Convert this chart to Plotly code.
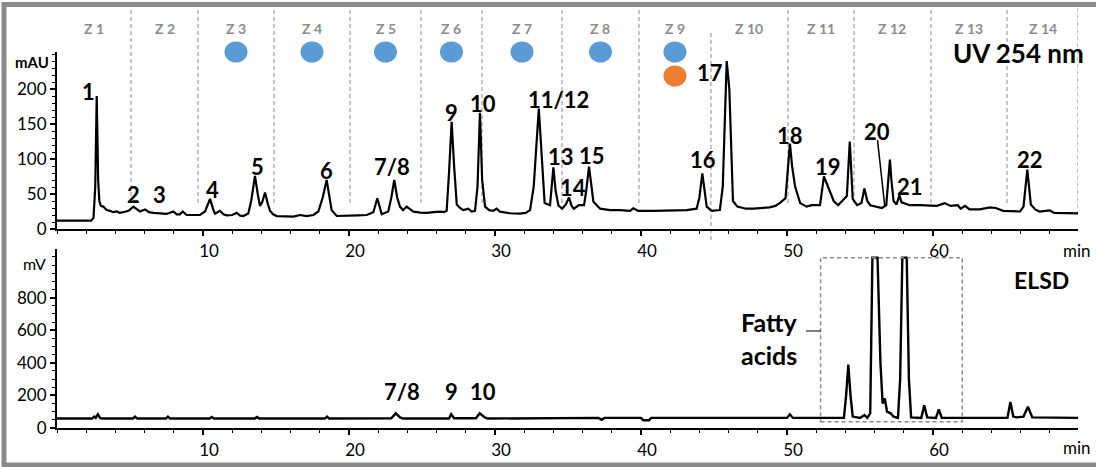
import plotly.graph_objects as go

# ---------------- data ----------------
uv_time = [0, 2.35, 2.5, 2.62, 2.72, 2.82, 2.9, 3.0, 3.17, 3.4, 3.63, 3.85, 4.09, 4.3, 4.54, 4.9,
           5.23, 5.5, 5.68, 6.03, 6.3, 6.6, 7.05, 7.3, 7.51, 7.97, 8.2, 8.42, 8.61, 8.88, 9.4, 9.79,
           10.14, 10.48, 10.7, 10.82, 11.16, 11.4, 11.62, 12.0, 12.31, 12.55, 12.76, 13.1, 13.3, 13.56,
           13.75, 13.9, 14.05, 14.25, 14.45, 14.59, 14.8, 15.05, 16.19, 16.64, 17.1, 17.56, 17.9, 18.2,
           18.47, 18.65, 18.81, 19.16, 20.07, 20.6, 21.21, 21.67, 21.94, 22.1, 22.24, 22.69, 22.9, 23.1,
           23.3, 23.49, 23.7, 23.95, 24.41, 24.9, 25.32, 25.8, 26.23, 26.5, 26.69, 26.85, 27.03, 27.2,
           27.38, 27.6, 27.83, 28.17, 28.4, 28.63, 28.8, 28.97, 29.12, 29.32, 29.6, 29.88, 30.11, 30.34,
           31.0, 31.71, 32.1, 32.4, 32.65, 33.0, 33.2, 33.4, 33.77, 33.9, 34.0, 34.15, 34.34, 34.6,
           34.85, 35.07, 35.25, 35.4, 35.75, 36.1, 36.25, 36.44, 36.6, 36.74, 37.2, 37.88, 38.56, 39.25,
           39.47, 39.8, 40.84, 41.98, 43.13, 43.81, 44.0, 44.2, 44.35, 44.5, 44.84, 45.4, 45.6, 45.87,
           46.05, 46.2, 46.3, 46.6, 47.2, 47.7, 48.2, 48.8, 49.2, 49.5, 49.9, 50.2, 50.35, 50.55, 50.9,
           51.35, 51.7, 52.26, 52.53, 52.83, 53.2, 53.5, 53.86, 54.1, 54.3, 54.5, 54.8, 55.1, 55.3, 55.5,
           55.7, 56.1, 56.5, 56.8, 56.95, 57.05, 57.15, 57.3, 57.5, 57.7, 57.85, 58.0, 58.4, 59.1, 60.25,
           60.8, 61.2, 61.7, 61.9, 62.2, 62.5, 63.2, 63.9, 64.3, 64.8, 65.96, 66.2, 66.46, 66.7, 67.0,
           67.3, 68.0, 68.3, 69.93]
uv_mau = [12, 12, 16, 60, 190, 70, 40, 33, 32, 27, 26, 24, 25, 23, 24, 26,
          32, 27, 25, 28, 24, 23, 22, 21.5, 21.5, 25, 21, 21, 25, 20, 19.5, 20,
          25, 43, 28, 22, 26, 21, 19.5, 20, 23, 19, 18.5, 22, 40, 76,
          50, 33, 38, 52, 35, 26, 21, 18.5, 17.6, 20, 18.5, 20, 25, 45,
          70, 45, 27, 18.6, 18.6, 19.5, 20, 24, 44, 30, 21, 25, 45, 70,
          45, 32, 27, 32, 24.8, 23.5, 23, 24, 24.8, 24, 26, 80, 153, 90,
          35, 30, 27, 29, 25, 26, 60, 166, 70, 32, 27, 26, 29, 24.8,
          22.5, 22, 23, 27, 60, 172, 110, 37, 34, 60, 88, 55, 34, 29,
          35, 45, 33, 29, 34, 34, 55, 89, 60, 39, 29, 27, 27, 26,
          29.5, 26, 26, 26, 27, 29, 45, 79.5, 55, 32, 26, 27, 60, 240,
          200, 90, 40, 32, 29, 29, 30, 31, 33, 37, 44, 122, 90, 61, 37,
          32, 34, 34, 75, 59, 40, 34, 42, 47, 125, 43, 34, 37, 58, 40,
          34, 32, 30, 34, 70, 99, 70, 40, 35, 48, 38, 37, 34, 34, 33,
          37, 33, 34, 29, 33, 28, 28, 31, 30, 26, 25, 32, 85, 35, 28,
          25, 26.5, 23, 22.4]

elsd_time = [0, 2.4, 2.55, 2.65, 2.8, 2.95, 3.1, 5.2, 5.34, 5.5, 7.45, 7.6, 7.75, 10.45, 10.6, 10.75,
             13.55, 13.7, 13.85, 18.35, 18.5, 18.65, 22.9, 23.2, 23.5, 23.7, 26.85, 27.0, 27.2, 28.7,
             28.95, 29.3, 29.5, 32.5, 32.7, 37.1, 37.3, 37.5, 40.0, 40.15, 40.55, 40.7, 50.0, 50.2,
             50.4, 53.9, 54.05, 54.2, 54.35, 54.5, 55.0, 55.3, 55.5, 55.7, 55.85, 56.2, 56.4, 56.55,
             56.7, 56.85, 57.1, 57.3, 57.6, 57.75, 57.9, 58.2, 58.35, 58.5, 59.2, 59.4, 59.6, 60.2,
             60.4, 60.6, 65.1, 65.3, 65.5, 65.7, 66.2, 66.5, 66.8, 69.93]
elsd_mv = [58, 58, 70, 62, 84, 62, 58, 58, 70, 58, 58, 70, 58, 58, 68, 58,
           58, 68, 58, 58, 70, 58, 60, 90, 65, 58, 58, 84, 60, 60,
           90, 65, 58, 58, 62, 62, 50, 62, 62, 48, 48, 62, 62, 84,
           62, 62, 200, 389, 200, 70, 62, 80, 62, 90, 1045, 1045, 400, 150,
           181, 100, 90, 70, 62, 300, 1045, 1045, 300, 65, 62, 140, 65, 62,
           114, 62, 62, 160, 70, 65, 70, 130, 65, 62]

uv_ticks = [0, 50, 100, 150, 200]
elsd_ticks = [0, 200, 400, 600, 800]
time_ticks = [10, 20, 30, 40, 50, 60]

zone_bounds = [0, 5.07, 9.66, 14.86, 20.07, 24.93, 29.11, 34.59, 39.86, 44.79, 50.07, 54.59,
               59.86, 65.07, 69.93]
zone_names = ["Z 1", "Z 2", "Z 3", "Z 4", "Z 5", "Z 6", "Z 7", "Z 8", "Z 9", "Z 10", "Z 11",
              "Z 12", "Z 13", "Z 14"]
blue_zones = [3, 4, 5, 6, 7, 8, 9]
orange_zones = [9]

uv_labels = ["1", "2", "3", "4", "5", "6", "7/8", "9", "10", "11/12", "13", "14", "15", "16",
             "17", "18", "19", "20", "21", "22"]
uv_label_t = [2.19, 5.21, 6.99, 10.68, 13.70, 18.49, 22.95, 27.05, 29.18, 34.38, 34.52, 35.34,
              36.64, 44.25, 44.73, 50.2, 52.8, 56.16, 58.42, 66.64]
uv_label_v = [197, 48.6, 48.6, 57, 88.6, 84, 88.6, 167, 178.6, 185.7, 102.9, 58.6, 104.3, 98.6,
              222.9, 132.9, 88.6, 138.6, 61.4, 98.6]
elsd_labels = ["7/8", "9", "10"]
elsd_label_t = [23.63, 27.05, 29.18]
elsd_label_v = [221, 221, 221]

# ---------------- geometry ----------------
W, H = 1096, 467
X0, X1 = 57, 1078
PPM = 14.6  # px per minute
TMAX = (X1 - X0) / PPM


def fy(p):
    return 1 - p / H


def fx(p):
    return p / W


UV_ZERO, UV_TOP, UV_SCALE = 229, 52, 0.7
EL_ZERO, EL_TOP, EL_SCALE = 428, 249, 0.163

FONT = "Lato"

fig = go.Figure()
fig.add_trace(go.Scatter(x=uv_time, y=uv_mau, mode="lines", line=dict(color="black", width=2.2),
                         xaxis="x", yaxis="y", showlegend=False, hoverinfo="skip"))
fig.add_trace(go.Scatter(x=elsd_time, y=elsd_mv, mode="lines", line=dict(color="black", width=2.4),
                         xaxis="x2", yaxis="y2", showlegend=False, hoverinfo="skip"))

tickfont = dict(family=FONT, size=17, color="black")
common = dict(showline=True, linecolor="black", linewidth=2.2, ticks="outside", tickcolor="black",
              tickwidth=1.5, ticklen=5, showgrid=False, zeroline=False, tickfont=tickfont,
              fixedrange=True)
minor_x = dict(dtick=2, tick0=0, ticks="outside", ticklen=3, tickwidth=1, tickcolor="black")

fig.update_layout(
    width=W, height=H, margin=dict(l=0, r=0, t=0, b=0, autoexpand=False),
    paper_bgcolor="white", plot_bgcolor="white", showlegend=False,
    xaxis=dict(common, domain=[fx(X0), fx(X1)], range=[0, TMAX], anchor="y",
               tickmode="array", tickvals=time_ticks, minor=minor_x, ticklabelshift=6),
    yaxis=dict(common, domain=[fy(UV_ZERO), fy(UV_TOP)],
               range=[0, (UV_ZERO - UV_TOP) / UV_SCALE], anchor="x",
               tickmode="array", tickvals=uv_ticks,
               minor=dict(dtick=10, tick0=0, ticks="outside", ticklen=3, tickwidth=1, tickcolor="black")),
    xaxis2=dict(common, domain=[fx(X0), fx(X1)], range=[0, TMAX], anchor="y2",
                tickmode="array", tickvals=time_ticks, minor=minor_x, ticklabelshift=6),
    yaxis2=dict(common, domain=[fy(EL_ZERO), fy(EL_TOP)],
                range=[0, (EL_ZERO - EL_TOP) / EL_SCALE], anchor="x2",
                tickmode="array", tickvals=elsd_ticks,
                minor=dict(dtick=50, tick0=0, ticks="outside", ticklen=3, tickwidth=1, tickcolor="black")),
)

shapes = []
annotations = []
grey_dash = dict(color="#a6a6a6", width=1.3, dash="4px,3px")

# zone boundary lines
for i, b in enumerate(zone_bounds[1:]):
    if abs(b - 44.79) < 0.01:
        y0p, y1p = 240, 32
    elif i == len(zone_bounds) - 2:
        y0p, y1p = 215, 7
    else:
        y0p, y1p = 203, 7
    shapes.append(dict(type="line", xref="x", yref="paper", x0=b, x1=b, y0=fy(y0p), y1=fy(y1p),
                       line=grey_dash, layer="below"))

# zone labels and circles
for i, name in enumerate(zone_names):
    mid = (zone_bounds[i] + zone_bounds[i + 1]) / 2
    annotations.append(dict(x=mid, y=fy(28), xref="x", yref="paper", text="<b>" + name + "</b>",
                            showarrow=False, font=dict(family=FONT, size=14, color="#8c8c8c"),
                            xanchor="center", yanchor="middle"))
    zn = i + 1
    r = 11.5 / PPM
    if zn in blue_zones:
        shapes.append(dict(type="circle", xref="x", yref="paper", x0=mid - r, x1=mid + r,
                           y0=fy(52 + 10.5), y1=fy(52 - 10.5), fillcolor="#5b9bd5",
                           line=dict(width=0)))
    if zn in orange_zones:
        shapes.append(dict(type="circle", xref="x", yref="paper", x0=mid - r, x1=mid + r,
                           y0=fy(76 + 10.5), y1=fy(76 - 10.5), fillcolor="#ed7d31",
                           line=dict(width=0)))

# peak labels
for s, t, v in zip(uv_labels, uv_label_t, uv_label_v):
    annotations.append(dict(x=t, y=v, xref="x", yref="y", text="<b>" + s + "</b>", showarrow=False,
                            font=dict(family=FONT, size=22, color="black"),
                            xanchor="center", yanchor="middle"))
for s, t, v in zip(elsd_labels, elsd_label_t, elsd_label_v):
    annotations.append(dict(x=t, y=v, xref="x2", yref="y2", text="<b>" + s + "</b>", showarrow=False,
                            font=dict(family=FONT, size=22, color="black"),
                            xanchor="center", yanchor="middle"))

# leader line for peak 20
shapes.append(dict(type="line", xref="x", yref="y", x0=56.2, y0=127, x1=56.7, y1=32,
                   line=dict(color="black", width=1.5)))

# fatty acids box and leader
shapes.append(dict(type="rect", xref="x2", yref="y2", x0=52.3, x1=62.0, y0=38, y1=1045,
                   line=dict(color="#8c8c8c", width=1.5, dash="4px,3px")))
shapes.append(dict(type="line", xref="x2", yref="y2", x0=51.3, x1=52.3, y0=595, y1=595,
                   line=dict(color="black", width=1)))
annotations.append(dict(x=48.77, y=552, xref="x2", yref="y2", text="<b>Fatty<br>acids</b>",
                        showarrow=False, font=dict(family=FONT, size=25, color="black"),
                        xanchor="center", yanchor="middle", align="left"))

# titles / units
annotations += [
    dict(x=fx(1018), y=fy(53), xref="paper", yref="paper", text="<b>UV 254 nm</b>", showarrow=False,
         font=dict(family=FONT, size=26, color="black"), xanchor="center", yanchor="middle"),
    dict(x=fx(1041), y=fy(280), xref="paper", yref="paper", text="<b>ELSD</b>", showarrow=False,
         font=dict(family=FONT, size=23, color="black"), xanchor="center", yanchor="middle"),
    dict(x=fx(32), y=fy(62), xref="paper", yref="paper", text="<b>mAU</b>", showarrow=False,
         font=dict(family=FONT, size=15, color="black"), xanchor="center", yanchor="middle"),
    dict(x=fx(34), y=fy(263), xref="paper", yref="paper", text="mV", showarrow=False,
         font=dict(family=FONT, size=16, color="black"), xanchor="center", yanchor="middle"),
    dict(x=fx(1077), y=fy(250), xref="paper", yref="paper", text="min", showarrow=False,
         font=dict(family=FONT, size=17, color="black"), xanchor="center", yanchor="middle"),
    dict(x=fx(1077), y=fy(447), xref="paper", yref="paper", text="min", showarrow=False,
         font=dict(family=FONT, size=17, color="black"), xanchor="center", yanchor="middle"),
]

# outer frame
shapes.append(dict(type="rect", xref="paper", yref="paper", x0=fx(4), x1=1.02, y0=fy(465),
                   y1=fy(4.5), line=dict(color="#8a8a8a", width=5)))

fig.update_layout(shapes=shapes, annotations=annotations)
fig.write_html("out.html", config={"displayModeBar": False},
               post_script="document.body.style.margin='0px';")
